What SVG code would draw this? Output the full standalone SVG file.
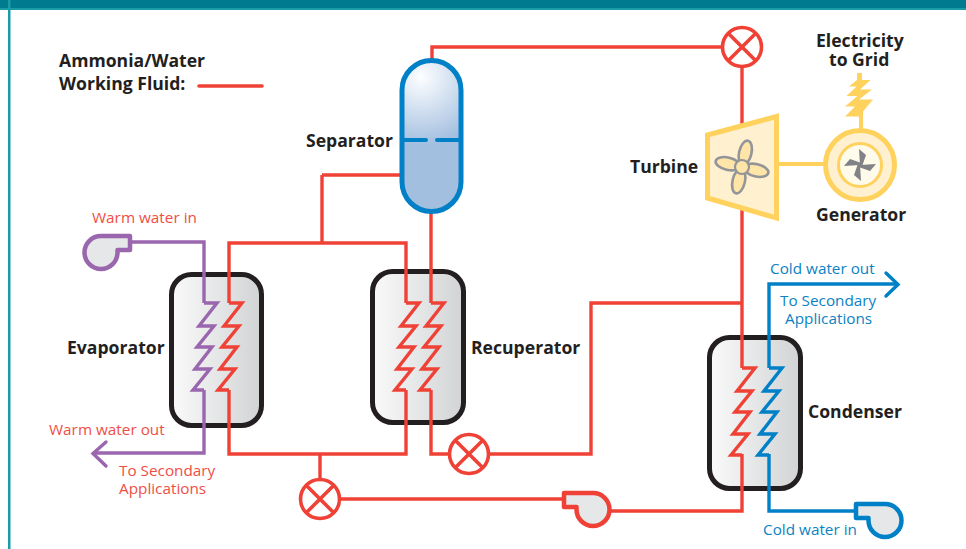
<svg xmlns="http://www.w3.org/2000/svg" width="966" height="549" viewBox="0 0 966 549">
<style>
.b{font-family:"Open Sans","Liberation Sans",sans-serif;font-weight:700;font-size:17.6px;fill:#231f20}
.l{font-family:"Open Sans","Liberation Sans",sans-serif;font-size:15.3px}
.r{fill:#f04e45}.u{fill:#0b82c4}
.p{fill:none;stroke-width:3.4;stroke-linejoin:miter}
.red{stroke:#f04136}.pur{stroke:#9a66ae}.blu{stroke:#0080c6}
.box{stroke:#231f20;stroke-width:5;fill:url(#g)}
.v{fill:#fff;stroke:#f04136;stroke-width:3.6}
.y{stroke:#ffd25e;fill:none;stroke-width:5}
</style>
<defs>
<linearGradient id="g"><stop offset="0" stop-color="#fafafa"/><stop offset="1" stop-color="#d1d3d4"/></linearGradient>
<radialGradient id="sg" gradientUnits="userSpaceOnUse" cx="421" cy="77" r="68"><stop offset="0" stop-color="#fdfeff"/><stop offset="1" stop-color="#a3bfe0"/></radialGradient>
<path id="zig" d="M0,0H13L-5,23H10L-7,44H8L-9,66H6L-11,87H0"/>
<path id="pump" d="M0,0H29A16.5,16.5 0 1 1 12.5,16.5V14H0Z" fill="#e6e7e8" stroke-width="4.5" stroke-linejoin="round"/>
<g id="xv"><circle r="19.5" class="v"/><path d="M-13.8,-13.800L13.800,13.800M13.800,-13.800L-13.800,13.800" stroke="#f04136" stroke-width="3.6"/></g>
<ellipse id="pet" cx="0" cy="-14.500" rx="6.200" ry="12.500" fill="#ffe6a8" stroke="#939598" stroke-width="2.6"/>
<path id="bl" d="M0,0L-1,-16L6,-10L2.500,0Z" fill="#808285"/>
</defs>
<rect width="966" height="549" fill="#fff"/>
<rect width="966" height="10" fill="#1a9ba8"/>
<rect width="966" height="8" fill="#007a8e"/>
<rect x="8" width="2.5" height="549" fill="#1a9ba8"/>

<g id="legend">
<text class="b"><tspan x="59" y="67">Ammonia/Water</tspan><tspan x="59" y="90">Working Fluid:</tspan></text>
<path d="M199,86H262" stroke="#f04136" stroke-width="3.6" stroke-linecap="round" fill="none"/>
</g>

<g id="evaporator">
<rect class="box" x="171.500" y="274.500" width="90" height="151" rx="20"/>
<text class="b" x="67" y="354">Evaporator</text>
</g>
<g id="recuperator">
<rect class="box" x="372.500" y="271.500" width="91" height="151" rx="20"/>
<text class="b" x="471" y="354">Recuperator</text>
</g>
<g id="condenser">
<rect class="box" x="709.500" y="337.500" width="91" height="151" rx="20"/>
<text class="b" x="808" y="418">Condenser</text>
</g>

<g id="connectors">
<path class="p red" d="M432,60V47H722M742,66V125M742,210V368M322,175H402M322,175V243M229,303V243H406V303M431,212V303"/>
<path class="p red" d="M229,390V454H406V390M431,390V454H450M488,454H591V303H742M320,454V480M340,499H565M609,511H742V454"/>
<path class="p pur" d="M131,242H204V303M204,390V453H94"/>
<path class="p pur" stroke-linecap="round" d="M106,442L93,453.500L106,466"/>
<path class="p blu" d="M769,368V284H897M769,454V511H856"/>
<path class="p blu" stroke-linecap="round" d="M886,273L898,284.500L886,296"/>
<use href="#zig" x="204" y="303" class="p pur"/>
<use href="#zig" x="229" y="303" class="p red"/>
<use href="#zig" x="406" y="303" class="p red"/>
<use href="#zig" x="431" y="303" class="p red"/>
<use href="#zig" x="742" y="368" class="p red"/>
<use href="#zig" x="769" y="368" class="p blu"/>
<path class="p" stroke="#ffd25e" style="stroke-width:4" d="M779,164H825M861,112V130"/>
</g>

<g id="separator">
<rect x="402" y="60.500" width="59" height="151" rx="29.500" fill="url(#sg)" stroke="#0080c6" stroke-width="5"/>
<path d="M402,140H426M437,140H460" stroke="#0080c6" stroke-width="4" stroke-linecap="round" fill="none"/>
<text class="b" x="306" y="147">Separator</text>
</g>
<g id="valve1"><use href="#xv" x="742" y="47"/></g>
<g id="valve2"><use href="#xv" x="469" y="454"/></g>
<g id="valve3"><use href="#xv" x="320" y="499"/></g>
<g id="pump-red"><use href="#pump" x="564" y="493" stroke="#f04136"/></g>
<g id="pump-blue"><use href="#pump" x="856" y="504" stroke="#0080c6"/>
<text class="l u" x="763" y="535">Cold water in</text></g>
<g id="pump-purple"><use href="#pump" transform="matrix(-1 0 0 1 130 236)" stroke="#9a66ae"/>
<text class="l r" x="92" y="223">Warm water in</text></g>
<g id="turbine">
<path class="y" style="fill:#fff0cf" d="M707.500,135L776.500,116.500V218L707.500,198Z"/>
<use href="#pet" transform="translate(742 167) rotate(13)"/>
<use href="#pet" transform="translate(742 167) rotate(103)"/>
<use href="#pet" transform="translate(742 167) rotate(193)"/>
<use href="#pet" transform="translate(742 167) rotate(283)"/>
<circle cx="742" cy="167" r="7" fill="#ffe6a8" stroke="#939598" stroke-width="2.200"/>
<text class="b" x="630" y="173">Turbine</text>
</g>
<g id="generator">
<path d="M857,73H862V80H870.500L860,89.500H872L859,99.500H873L863,111.500V116.500H845L855,106.500H845L857.500,96H846.500L856.500,86.500H849L857,80Z" fill="#ffd25e"/>
<circle cx="860" cy="165" r="34.500" fill="#fff0cf" stroke="#ffd25e" stroke-width="5"/>
<circle cx="860" cy="165" r="21.500" fill="#fffbea" stroke="#ffd25e" stroke-width="3"/>
<use href="#bl" transform="translate(860 165) rotate(0)"/>
<use href="#bl" transform="translate(860 165) rotate(90)"/>
<use href="#bl" transform="translate(860 165) rotate(180)"/>
<use href="#bl" transform="translate(860 165) rotate(270)"/>
<text class="b"><tspan x="816" y="47">Electricity</tspan><tspan x="829" y="66">to Grid</tspan></text>
<text class="b" x="816" y="221">Generator</text>
</g>
<g id="labels">
<text class="l r" x="49" y="435">Warm water out</text>
<text class="l r"><tspan x="119" y="476">To Secondary</tspan><tspan x="119" y="494">Applications</tspan></text>
<text class="l u" x="770" y="274">Cold water out</text>
<text class="l u"><tspan x="780" y="306">To Secondary</tspan><tspan x="785" y="324">Applications</tspan></text>
</g>
</svg>
